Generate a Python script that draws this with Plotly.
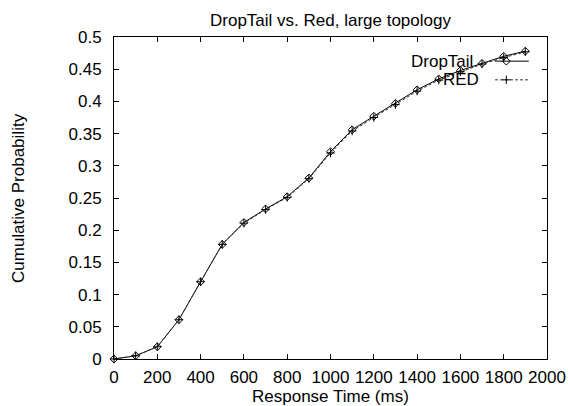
import plotly.graph_objects as go

# ---- data ----
response_time = [0, 100, 200, 300, 400, 500, 600, 700, 800, 900,
                 1000, 1100, 1200, 1300, 1400, 1500, 1600, 1700, 1800, 1900]
droptail = [0.0, 0.005, 0.019, 0.061, 0.120, 0.178, 0.212, 0.233, 0.252, 0.281,
            0.322, 0.356, 0.377, 0.397, 0.418, 0.435, 0.448, 0.459, 0.470, 0.478]
red = [0.0, 0.005, 0.019, 0.061, 0.120, 0.178, 0.211, 0.232, 0.251, 0.280,
       0.320, 0.354, 0.375, 0.395, 0.416, 0.433, 0.446, 0.458, 0.468, 0.477]

x_ticks = list(range(0, 2001, 200))
y_ticks = [0, 0.05, 0.1, 0.15, 0.2, 0.25, 0.3, 0.35, 0.4, 0.45, 0.5]
y_tick_text = ["0", "0.05", "0.1", "0.15", "0.2", "0.25", "0.3", "0.35", "0.4", "0.45", "0.5"]

series_names = ["DropTail", "RED"]

FONT = "Liberation Sans, Arial, sans-serif"
FS = 17

fig = go.Figure()

fig.add_trace(go.Scatter(
    x=response_time, y=droptail, mode="lines+markers", name=series_names[0],
    line=dict(color="black", width=1),
    marker=dict(symbol="diamond-open", size=6, color="black", line=dict(width=1)),
    showlegend=False, cliponaxis=False,
))
fig.add_trace(go.Scatter(
    x=response_time, y=red, mode="lines+markers", name=series_names[1],
    line=dict(color="#333333", width=1, dash="3px,2px"),
    marker=dict(symbol="cross-thin-open", size=6, color="black", line=dict(width=1, color="black")),
    showlegend=False, cliponaxis=False,
))

# ---- gnuplot-style key (overlay axes in unit coordinates) ----
key_x0, key_x1, key_mid = 0.880, 0.958, 0.906
key_y = [0.925, 0.867]
fig.add_trace(go.Scatter(
    x=[key_x0, key_x1], y=[key_y[0]] * 2, mode="lines", xaxis="x2", yaxis="y2",
    line=dict(color="black", width=1), showlegend=False, hoverinfo="skip"))
fig.add_trace(go.Scatter(
    x=[key_mid], y=[key_y[0]], mode="markers", xaxis="x2", yaxis="y2",
    marker=dict(symbol="diamond-open", size=6, color="black", line=dict(width=1)),
    showlegend=False, hoverinfo="skip"))
fig.add_trace(go.Scatter(
    x=[key_x0, key_x1], y=[key_y[1]] * 2, mode="lines", xaxis="x2", yaxis="y2",
    line=dict(color="#333333", width=1, dash="3px,2px"),
    showlegend=False, hoverinfo="skip"))
fig.add_trace(go.Scatter(
    x=[key_mid], y=[key_y[1]], mode="markers", xaxis="x2", yaxis="y2",
    marker=dict(symbol="cross-thin-open", size=6, color="black", line=dict(width=1, color="black")),
    showlegend=False, hoverinfo="skip"))

annotations = [
    dict(text=series_names[0], xref="x2", yref="y2", x=0.833, y=key_y[0],
         xanchor="right", yanchor="middle", showarrow=False,
         font=dict(family=FONT, size=FS, color="black")),
    dict(text=series_names[1], xref="x2", yref="y2", x=0.848, y=key_y[1],
         xanchor="right", yanchor="middle", showarrow=False,
         font=dict(family=FONT, size=FS, color="black")),
    dict(text="DropTail vs. Red, large topology", xref="paper", yref="paper",
         x=0.5, y=1, yshift=17, xanchor="center", yanchor="middle", showarrow=False,
         font=dict(family=FONT, size=FS, color="black")),
    dict(text="Response Time (ms)", xref="paper", yref="paper",
         x=0.5, y=0, yshift=-37, xanchor="center", yanchor="middle", showarrow=False,
         font=dict(family=FONT, size=FS, color="black")),
    dict(text="Cumulative Probability", xref="paper", yref="paper",
         x=0, y=0.5, xshift=-96, xanchor="center", yanchor="middle", showarrow=False,
         textangle=-90, font=dict(family=FONT, size=FS, color="black")),
]

axis_common = dict(
    showline=True, linecolor="black", linewidth=1, mirror="ticks",
    ticks="inside", ticklen=5, tickcolor="black", tickwidth=1,
    showgrid=False, zeroline=False, tickangle=0, automargin=False,
    tickfont=dict(family=FONT, size=17, color="black"),
)

fig.update_layout(
    width=568, height=406,
    margin=dict(l=114, r=21, t=37, b=47, autoexpand=False),
    paper_bgcolor="white", plot_bgcolor="white",
    xaxis=dict(range=[0, 2000], tickvals=x_ticks, ticktext=[str(v) for v in x_ticks],
               ticklabelstandoff=3, **axis_common),
    yaxis=dict(range=[0, 0.5], tickvals=y_ticks, ticktext=y_tick_text,
               ticklabelstandoff=8, **axis_common),
    xaxis2=dict(range=[0, 1], overlaying="x", visible=False, fixedrange=True),
    yaxis2=dict(range=[0, 1], overlaying="y", visible=False, fixedrange=True),
    annotations=annotations,
    showlegend=False,
)

fig.write_html("out.html", config={"displayModeBar": False},
               post_script="document.body.style.margin='0';document.body.style.padding='0';")
